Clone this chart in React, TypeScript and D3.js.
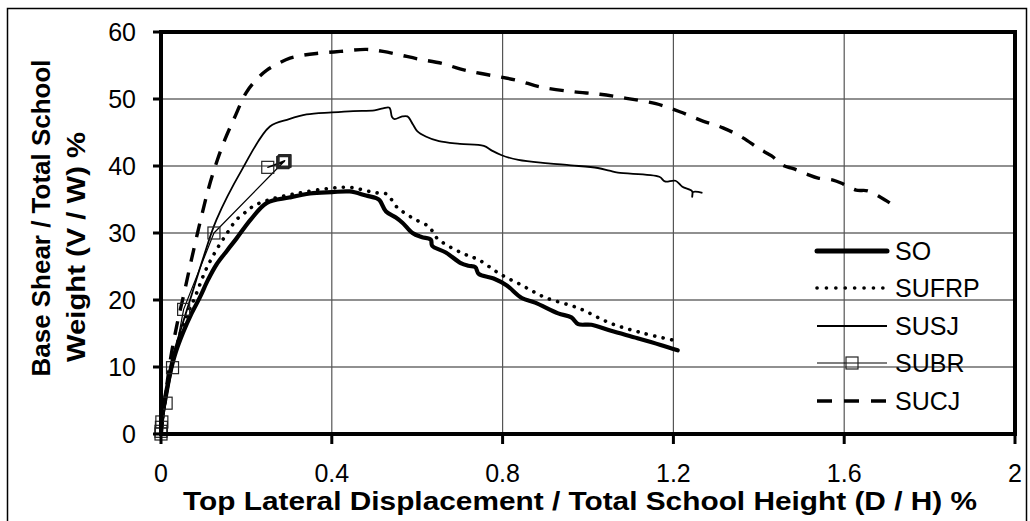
import React from "react";
import * as d3 from "d3";

type P = [number, number];

const xTicks = [0, 0.4, 0.8, 1.2, 1.6, 2];
const xTickLabels = ["0", "0.4", "0.8", "1.2", "1.6", "2"];
const yTicks = [0, 10, 20, 30, 40, 50, 60];
const yTickLabels = ["0", "10", "20", "30", "40", "50", "60"];

const seriesNames = ["SO", "SUFRP", "SUSJ", "SUBR", "SUCJ"];

const SO: P[] = [
  [0, 0], [0.003, 2.5], [0.01, 5.5], [0.021, 9], [0.035, 12.3], [0.052, 15.2], [0.07, 17.8],
  [0.091, 20.4], [0.11, 23], [0.13, 25.3], [0.155, 27.4], [0.177, 29.2], [0.21, 32],
  [0.248, 34.5], [0.3, 35.3], [0.349, 35.9], [0.4, 36.1], [0.442, 36.2], [0.48, 35.6],
  [0.504, 35.2], [0.512, 34.9], [0.527, 33.2], [0.55, 32.3], [0.566, 31.5], [0.589, 30],
  [0.61, 29.4], [0.632, 29], [0.635, 28.1], [0.667, 27.1], [0.702, 25.5], [0.72, 25.1],
  [0.736, 24.9], [0.744, 23.9], [0.779, 23.2], [0.809, 22.2], [0.845, 20.3], [0.876, 19.6],
  [0.93, 18], [0.961, 17.4], [0.977, 16.4], [1.008, 16.3], [1.054, 15.4], [1.116, 14.3],
  [1.17, 13.3], [1.21, 12.5],
];

const SUFRP: P[] = [
  [0, 0], [0.01, 5.5], [0.025, 10], [0.05, 16], [0.08, 20.5], [0.105, 24.5], [0.13, 27.5],
  [0.155, 30], [0.177, 32], [0.2, 33.2], [0.216, 34], [0.255, 35], [0.318, 35.9], [0.4, 36.7],
  [0.447, 36.8], [0.48, 36.3], [0.505, 36], [0.529, 35.8], [0.552, 33.9], [0.59, 32.2],
  [0.628, 30.9], [0.647, 29.2], [0.705, 27], [0.744, 26], [0.791, 24], [0.845, 22.2],
  [0.899, 20.4], [0.977, 18.8], [1.054, 16.5], [1.132, 15], [1.2, 14],
];

const SUSJ: P[] = [
  [0, 0], [0.01, 4.5], [0.021, 10], [0.045, 15.3], [0.068, 20], [0.1, 26.5], [0.13, 32],
  [0.19, 39.5], [0.255, 45.9], [0.3, 47], [0.341, 47.7], [0.4, 48], [0.45, 48.2], [0.5, 48.3],
  [0.52, 48.6], [0.535, 48.7], [0.541, 47.3], [0.547, 47], [0.565, 47.4], [0.577, 47.4],
  [0.59, 46.2], [0.6, 45.2], [0.62, 44.4], [0.651, 43.7], [0.7, 43.3], [0.756, 43],
  [0.775, 42.3], [0.798, 41.6], [0.837, 40.9], [0.907, 40.4], [0.96, 40.1], [1.023, 39.7],
  [1.05, 39.3], [1.07, 39], [1.167, 38.4], [1.18, 37.7], [1.205, 37.8], [1.221, 36.9],
  [1.244, 36.2], [1.244, 35.4], [1.246, 36.1], [1.268, 36],
];

const SUBR: P[] = [
  [0, 0], [0, 0.4], [0.001, 1.0], [0.002, 1.8], [0.012, 4.6], [0.027, 9.9], [0.053, 18.6],
  [0.124, 30], [0.287, 40.6], [0.29, 40.8], [0.25, 39.8], [0.285, 40.5], [0.29, 40.7],
];

const SUCJ: P[] = [
  [0, 0], [0.005, 3], [0.012, 6.5], [0.023, 11.5], [0.038, 16.5], [0.054, 21], [0.073, 26.5],
  [0.093, 32], [0.112, 36.8], [0.132, 40.9], [0.15, 44], [0.17, 46.9], [0.2, 51], [0.225, 53],
  [0.248, 54.3], [0.275, 55.3], [0.302, 56.1], [0.33, 56.5], [0.364, 56.8], [0.42, 57.1],
  [0.481, 57.4], [0.52, 57.1], [0.558, 56.6], [0.6, 56], [0.659, 55.3], [0.7, 54.5],
  [0.75, 53.8], [0.833, 52.8], [0.888, 51.8], [0.964, 51.1], [1.028, 50.7], [1.09, 50.1],
  [1.159, 49.3], [1.215, 48.1], [1.269, 46.7], [1.316, 45.7], [1.363, 44.2], [1.4, 42.6],
  [1.43, 41.5], [1.457, 40.1], [1.481, 39.6], [1.512, 38.8], [1.539, 38.2], [1.574, 37.9],
  [1.598, 37.3], [1.628, 36.4], [1.655, 36.3], [1.686, 35.3], [1.709, 34.4],
];

const FONT = "'Liberation Sans', Arial, Helvetica, sans-serif";

export default function App() {
  const x = d3.scaleLinear().domain([0, 2]).range([161, 1015]);
  const y = d3.scaleLinear().domain([0, 60]).range([434, 32]);
  const smooth = d3.line<P>().x((d) => x(d[0])).y((d) => y(d[1])).curve(d3.curveCatmullRom.alpha(0.5));
  const straight = d3.line<P>().x((d) => x(d[0])).y((d) => y(d[1]));

  const styles: Record<string, any> = {
    SO: { strokeWidth: 4.2, dash: undefined, cap: "round" },
    SUFRP: { strokeWidth: 3.6, dash: "0.1 8.5", cap: "round" },
    SUSJ: { strokeWidth: 1.8, dash: undefined, cap: "butt" },
    SUBR: { strokeWidth: 1.2, dash: undefined, cap: "butt" },
    SUCJ: { strokeWidth: 3.4, dash: "14 11", cap: "butt" },
  };
  const data: Record<string, P[]> = { SO, SUFRP, SUSJ, SUBR, SUCJ };
  const legendY = [251, 288, 326, 363, 401];
  const sq = 12;

  return (
    <svg
      width={1030}
      height={521}
      style={{ position: "absolute", left: 0, top: 0, background: "#fff" }}
      fontFamily={FONT}
    >
      <rect x={0} y={0} width={1030} height={521} fill="#fff" />
      <rect x={7.5} y={8.5} width={1019} height={530} fill="none" stroke="#000" strokeWidth={1.5} />

      {/* gridlines */}
      {yTicks.slice(1, -1).map((t) => (
        <line key={"gy" + t} x1={x(0)} x2={x(2)} y1={y(t)} y2={y(t)} stroke="#222" strokeWidth={1.2} />
      ))}
      {xTicks.slice(1, -1).map((t) => (
        <line key={"gx" + t} x1={x(t)} x2={x(t)} y1={y(0)} y2={y(60)} stroke="#555" strokeWidth={1.2} />
      ))}

      {/* series */}
      {seriesNames.map((n) => (
        <path
          key={n}
          d={(n === "SUBR" ? straight(data[n]) : smooth(data[n])) || ""}
          fill="none"
          stroke="#000"
          strokeWidth={styles[n].strokeWidth}
          strokeDasharray={styles[n].dash}
          strokeLinecap={styles[n].cap}
          strokeLinejoin="round"
        />
      ))}
      {SUBR.map((d, i) => (
        <rect
          key={"m" + i}
          x={x(d[0]) - sq / 2}
          y={y(d[1]) - sq / 2}
          width={sq}
          height={sq}
          fill="none"
          stroke="#222"
          strokeWidth={1.2}
        />
      ))}

      {/* frame */}
      <rect x={x(0)} y={y(60)} width={x(2) - x(0)} height={y(0) - y(60)} fill="none" stroke="#000" strokeWidth={4} />

      {/* ticks */}
      {yTicks.map((t) => (
        <line key={"ty" + t} x1={x(0) - 8} x2={x(0)} y1={y(t)} y2={y(t)} stroke="#000" strokeWidth={3} />
      ))}
      {xTicks.map((t) => (
        <line key={"tx" + t} x1={x(t)} x2={x(t)} y1={y(0)} y2={y(0) + 10} stroke="#000" strokeWidth={3} />
      ))}

      {/* tick labels */}
      {yTicks.map((t, i) => (
        <text key={"ly" + t} x={136} y={y(t) + 9} fontSize={25} textAnchor="end" fill="#000">
          {yTickLabels[i]}
        </text>
      ))}
      {xTicks.map((t, i) => (
        <text key={"lx" + t} x={x(t)} y={482} fontSize={25} textAnchor="middle" fill="#000">
          {xTickLabels[i]}
        </text>
      ))}

      {/* axis titles */}
      <text x={183} y={510} fontSize={26} fontWeight="bold" textLength={794} lengthAdjust="spacingAndGlyphs">
        Top Lateral Displacement / Total School Height (D / H) %
      </text>
      <text
        transform="translate(50,218) rotate(-90)"
        fontSize={25}
        fontWeight="bold"
        textAnchor="middle"
        textLength={317}
        lengthAdjust="spacingAndGlyphs"
      >
        Base Shear / Total School
      </text>
      <text
        transform="translate(85,247) rotate(-90)"
        fontSize={25}
        fontWeight="bold"
        textAnchor="middle"
        textLength={230}
        lengthAdjust="spacingAndGlyphs"
      >
        Weight (V / W) %
      </text>

      {/* legend */}
      {seriesNames.map((n, i) => (
        <g key={"lg" + n}>
          <line
            x1={817}
            x2={887}
            y1={legendY[i]}
            y2={legendY[i]}
            stroke="#000"
            strokeWidth={n === "SO" ? 5 : styles[n].strokeWidth}
            strokeDasharray={n === "SUFRP" ? "0.1 9.3" : n === "SUCJ" ? "15 12" : undefined}
            strokeLinecap={styles[n].cap}
          />
          {n === "SUBR" && (
            <rect x={852 - sq / 2} y={legendY[i] - sq / 2} width={sq} height={sq} fill="none" stroke="#222" strokeWidth={1.2} />
          )}
          <text x={895} y={legendY[i] + 9} fontSize={25} fill="#000">
            {n}
          </text>
        </g>
      ))}
    </svg>
  );
}
